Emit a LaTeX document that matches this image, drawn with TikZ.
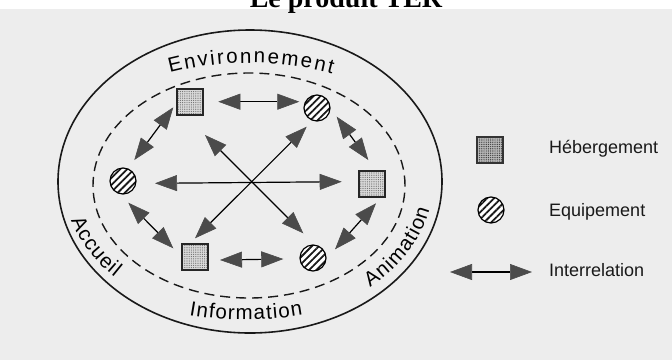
\documentclass[tikz,border=0pt]{standalone}
\usepackage{fontspec}
\setmainfont{Liberation Sans}
\newfontfamily\titlefont{Liberation Serif}
\usetikzlibrary{arrows.meta,patterns.meta,decorations.text,calc}
\definecolor{page}{RGB}{237,237,237}
\definecolor{tipgray}{RGB}{75,75,75}
\newcommand{\arcfont}{\fontsize{20.5}{20.5}\selectfont}
\begin{document}
\begin{tikzpicture}[x=1pt,y=1pt,
  outerline/.style={draw=black!90,line width=1.6pt},
  dashline/.style={draw=black!90,line width=1.4pt,dash pattern=on 10pt off 6pt},
  hsq/.style={rectangle,minimum size=26pt,inner sep=0pt,draw=black!85,line width=1.2pt,
    preaction={fill=gray!30},pattern={Dots[radius=0.6pt,distance=2.2pt]},pattern color=gray!85!black},
  hsqleg/.style={rectangle,minimum size=26pt,inner sep=0pt,draw=black!80,line width=1.2pt,
    preaction={fill=gray!55},pattern={Dots[radius=0.7pt,distance=2.2pt]},pattern color=black!75},
  eqc/.style={circle,minimum size=26pt,inner sep=0pt,draw=black,line width=1.2pt,
    preaction={fill=white},pattern={Lines[angle=45,distance=5pt,line width=1.8pt]},pattern color=black!90},
  rel/.style={draw=black,line width=1.2pt,
    arrows={Triangle[length=22pt,width=16pt,color=tipgray,fill=tipgray,line width=0.6pt]-Triangle[length=22pt,width=16pt,color=tipgray,fill=tipgray,line width=0.6pt]}},
  legtext/.style={font=\fontsize{18}{18}\selectfont,text=black!90,inner sep=0pt},
  arclabel/.style={decorate,decoration={text along path,text align={fit to path},text={|\arcfont|#1}}}
]
\useasboundingbox (0,0) rectangle (672,-360);
\clip (0,0) rectangle (672,-360);
\fill[white] (0,0) rectangle (672,-9);
\fill[page] (0,-9) rectangle (672,-360);

% title (cut by the page edge)
\node[anchor=base,inner sep=0pt,font=\titlefont\bfseries\fontsize{28}{28}\selectfont] (title) at (346,-7) {Le produit TER};

% ellipses
\draw[outerline] (250,-181.5) ellipse [x radius=192,y radius=151.5];
\draw[dashline] (249,-185.5) ellipse [x radius=156,y radius=112.5];

% curved labels
\path[arclabel=Environnement] ($(250,-183)+(113.6:200 and 120)$) arc[start angle=113.6,end angle=65.8,x radius=200,y radius=120];
\path[arclabel=Information] ($(246,-183)+(254.5:213 and 137)$) arc[start angle=254.5,end angle=285.5,x radius=213,y radius=137];
\path[arclabel=Accueil] ($(250,-181)+(196.3:186.4 and 139.8)$) arc[start angle=196.3,end angle=223.5,x radius=186.4,y radius=139.8];
\path[arclabel=Animation] ($(250,-181)+(310.9:183.4 and 140.7)$) arc[start angle=310.9,end angle=348.3,x radius=183.4,y radius=140.7];

% nodes
\node[hsq] (h1) at (190,-102) {};
\node[eqc] (e1) at (317,-108) {};
\node[eqc] (e2) at (123,-181) {};
\node[hsq] (h2) at (372,-184) {};
\node[hsq] (h3) at (195,-257) {};
\node[eqc] (e3) at (313,-258) {};

% interrelations
\draw[rel] ($(h1)+(28.3,0.3)$) -- ($(e1)+(-17.7,6.3)$);
\draw[rel] ($(h1)+(-16.7,-5.3)$) -- ($(e2)+(11.3,21)$);
\draw[rel] ($(e1)+(19.7,-8.7)$) -- ($(h2)+(-3.7,24)$);
\draw[rel] ($(e2)+(5.3,-21.7)$) -- ($(h3)+(-21.7,8.7)$);
\draw[rel] ($(h2)+(4,-19.3)$) -- ($(e3)+(22,8.7)$);
\draw[rel] ($(h3)+(25,-3)$) -- ($(e3)+(-29.7,-1)$);
\draw[rel] ($(h1)+(15,-33)$) -- ($(e3)+(-9.7,24.7)$);
\draw[rel] ($(e1)+(-10.3,-18.7)$) -- ($(h3)+(0,18.7)$);
\draw[rel] ($(e2)+(32,-2.3)$) -- ($(h2)+(-30.3,2.3)$);

% legend
\node[hsqleg] (lh) at (490,-150) {};
\node[eqc] (le) at (491,-210) {};
\coordinate (la1) at (450,-272);
\coordinate (la2) at (532,-272);
\draw[rel] (la1) -- (la2);
\node[legtext,anchor=base west] (t1) at (549,-153) {Hébergement};
\node[legtext,anchor=base west] (t2) at (549,-216.7) {Equipement};
\node[legtext,anchor=base west] (t3) at (549,-276) {Interrelation};
\end{tikzpicture}
\end{document}
